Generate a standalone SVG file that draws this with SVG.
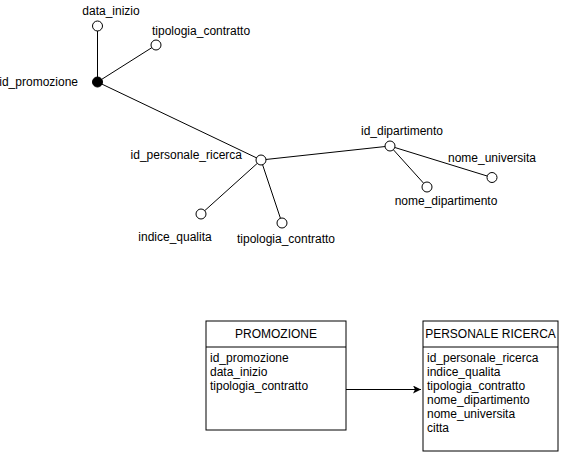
<svg xmlns="http://www.w3.org/2000/svg" width="564" height="454" viewBox="0 0 564 454">
<style>
text{font-family:"Liberation Sans",Arial,sans-serif;font-size:12px;fill:#000}
.a{fill:#fff;stroke:#000;stroke-width:1}
.k{fill:#000;stroke:#000;stroke-width:1}
.l{stroke:#000;stroke-width:1;fill:none}
.m{text-anchor:middle}
.e{text-anchor:end}
.box{fill:#fff;stroke:#000;stroke-width:1}
</style>
<defs>
<marker id="arr" markerWidth="10" markerHeight="10" refX="8" refY="4" orient="auto" markerUnits="userSpaceOnUse">
<path d="M0,0 L8,4 L0,8 L2,4 Z" fill="#000"/>
</marker>
</defs>
<rect width="564" height="454" fill="#fff"/>
<g id="connectors">
<line class="l" x1="97.5" y1="82" x2="97.5" y2="26"/>
<line class="l" x1="97.5" y1="82" x2="156" y2="45"/>
<line class="l" x1="97.5" y1="82" x2="261" y2="160"/>
<line class="l" x1="261" y1="160" x2="201" y2="214"/>
<line class="l" x1="261" y1="160" x2="282" y2="223"/>
<line class="l" x1="261" y1="160" x2="390" y2="146"/>
<line class="l" x1="390" y1="146" x2="427" y2="187"/>
<line class="l" x1="390" y1="146" x2="492" y2="177.5"/>
<line class="l" x1="346" y1="389.5" x2="421" y2="389.5" marker-end="url(#arr)"/>
</g>
<g id="id_promozione"><circle class="k" cx="97.5" cy="82" r="5"/><text class="e" x="78" y="86">id_promozione</text></g>
<g id="data_inizio"><circle class="a" cx="97.5" cy="26" r="5"/><text class="m" x="111" y="15">data_inizio</text></g>
<g id="tipologia_contratto_1"><circle class="a" cx="156" cy="45" r="5"/><text x="152" y="35">tipologia_contratto</text></g>
<g id="id_personale_ricerca"><circle class="a" cx="261" cy="160" r="5"/><text class="e" x="242" y="159">id_personale_ricerca</text></g>
<g id="indice_qualita"><circle class="a" cx="201" cy="214" r="5"/><text class="m" x="175" y="241">indice_qualita</text></g>
<g id="tipologia_contratto_2"><circle class="a" cx="282" cy="223" r="5"/><text class="m" x="286" y="243">tipologia_contratto</text></g>
<g id="id_dipartimento"><circle class="a" cx="390" cy="146" r="5"/><text class="m" x="402" y="135">id_dipartimento</text></g>
<g id="nome_dipartimento"><circle class="a" cx="427" cy="187" r="5"/><text class="m" x="446" y="205">nome_dipartimento</text></g>
<g id="nome_universita"><circle class="a" cx="492" cy="177.5" r="5"/><text class="m" x="492" y="162">nome_universita</text></g>
<g id="PROMOZIONE">
<rect class="box" x="206" y="321" width="140" height="109"/>
<line class="l" x1="206" y1="347" x2="346" y2="347"/>
<text class="m" x="276" y="338">PROMOZIONE</text>
<text x="210" y="362">id_promozione</text>
<text x="210" y="376">data_inizio</text>
<text x="210" y="390">tipologia_contratto</text>
</g>
<g id="PERSONALE_RICERCA">
<rect class="box" x="423" y="321" width="135" height="130"/>
<line class="l" x1="423" y1="347" x2="558" y2="347"/>
<text class="m" x="490.5" y="338">PERSONALE RICERCA</text>
<text x="427" y="362">id_personale_ricerca</text>
<text x="427" y="376">indice_qualita</text>
<text x="427" y="390">tipologia_contratto</text>
<text x="427" y="404">nome_dipartimento</text>
<text x="427" y="418">nome_universita</text>
<text x="427" y="432">citta</text>
</g>
</svg>
